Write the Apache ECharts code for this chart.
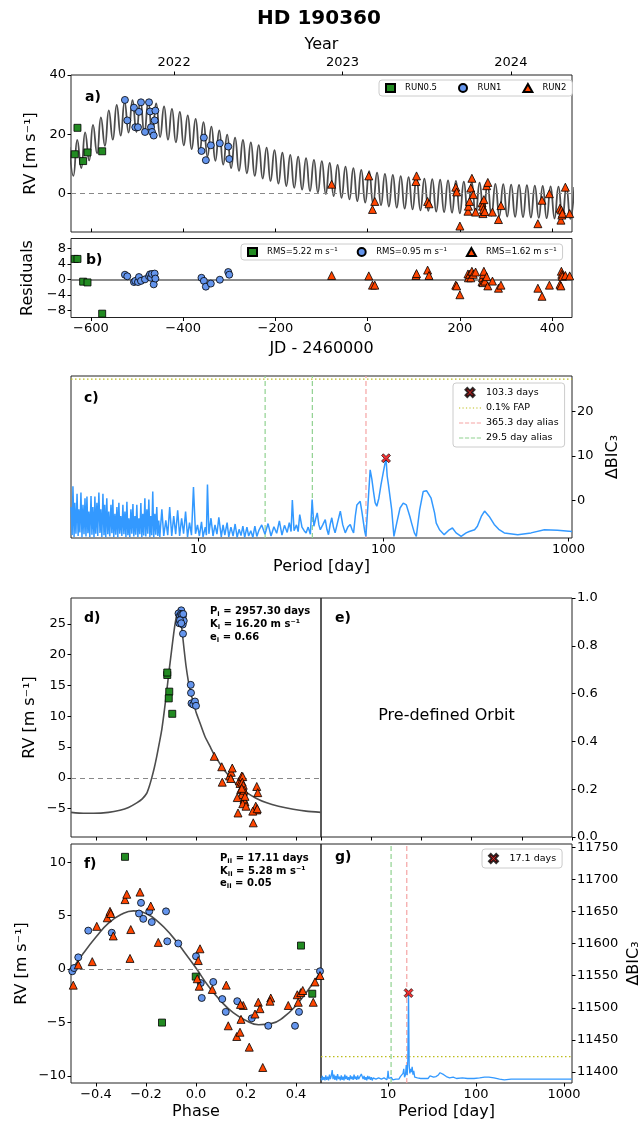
<!DOCTYPE html>
<html><head><meta charset="utf-8">
<script src="https://cdn.jsdelivr.net/npm/echarts@6/dist/echarts.min.js"></script>
<style>html,body{margin:0;padding:0;background:#fff}#c{width:638px;height:1127px}</style>
</head><body><div id="c"></div>
<script>
// ---------------- DATA ----------------
const jdTicks = [-600, -400, -200, 0, 200, 400];
const yearJD = [-419.5, -54.5, 310.5];
const yearLabels = ['2022', '2023', '2024'];

const run05JD = [-634.8, -629.0, -616.7, -607.2, -575.4];
const run05RV = [13.3, 22.2, 11.0, 13.9, 14.3];
const run05Res = [5.3, 5.3, -0.6, -0.8, -8.9];

const run1JD = [-526.1, -521.0, -506.5, -503.7, -497.8, -495.7, -491.3, -482.6, -473.9, -471.7, -469.6, -467.4, -463.7, -461.6, -460.1, -360.2, -355.0, -350.7, -339.9, -320.4, -302.2, -300.0];
const run1RV = [31.6, 24.7, 29.0, 22.4, 22.4, 27.6, 30.8, 20.8, 30.8, 27.7, 22.4, 20.8, 19.6, 24.7, 28.0, 14.4, 18.9, 11.3, 16.3, 17.0, 15.9, 11.7];
const run1Res = [1.2, 0.8, -0.7, -0.4, -0.7, 0.6, -0.4, 0.0, 0.8, 1.3, 0.4, 1.4, -1.3, 1.5, 0.2, 0.4, -0.4, -1.9, -1.1, -0.1, 1.9, 1.2];

const run2JD = [-78, 2.5, 10.5, 15.5, 104.7, 106, 130, 133, 191, 193, 200, 217.5, 218.5, 221, 223.6, 226, 229, 234, 248, 249, 250, 251, 252, 254, 258, 260.5, 270.6, 283.6, 289, 369, 378, 394, 417, 419, 420, 421, 422, 428.6, 438];
const run2RV = [3.2, 6.0, -5.3, -2.6, 4.1, 6.0, -2.6, -3.4, 2.2, 0.6, -10.9, -5.9, -4.2, -2.6, 1.9, 5.2, -0.3, -6.2, -3.1, -4.2, -6.7, -5.3, -2.0, -6.0, 2.7, 3.8, -6.2, -8.7, -4.0, -10.1, -2.2, 0.0, -4.9, -8.9, -5.5, -7.2, -6.6, 2.2, -6.7];
const run2Res = [1.0, 0.9, -1.5, -1.5, 1.0, 1.5, 2.4, 1.0, -1.5, -1.7, -4.0, 1.4, 0.4, 1.3, 0.4, 2.1, 1.3, 1.9, -0.6, 0.4, -0.85, 1.3, 2.1, -0.45, 0.7, -1.7, -0.45, -2.3, -1.5, -2.3, -4.4, -1.5, -1.3, -1.7, 2.1, 1.3, 0.8, 1.0, 0.9];

// model curve of panel a, read as turning points [JD, RV]
const modelA = [[-646.5,15.7],[-637.9,6.0],[-629.4,18.1],[-620.8,8.6],[-612.3,20.7],[-603.7,11.2],[-595.2,23.2],[-586.6,13.6],[-578.1,25.7],[-569.5,16.1],[-561.0,28.1],[-552.4,18.2],[-543.9,29.9],[-535.3,19.6],[-526.8,31.0],[-518.2,20.6],[-509.7,31.5],[-501.1,20.8],[-492.6,31.5],[-484.0,20.4],[-475.5,30.9],[-466.9,19.9],[-458.4,30.4],[-449.8,19.1],[-441.3,29.4],[-432.7,18.2],[-424.2,28.6],[-415.6,17.3],[-407.1,27.6],[-398.5,16.3],[-390.0,26.4],[-381.4,15.0],[-372.9,25.2],[-364.3,13.8],[-355.8,24.1],[-347.2,12.5],[-338.7,22.6],[-330.1,11.1],[-321.6,21.3],[-313.0,9.8],[-304.5,19.9],[-295.9,8.6],[-287.4,18.9],[-278.8,7.7],[-270.3,18.1],[-261.7,6.9],[-253.2,17.3],[-244.6,6.0],[-236.1,16.4],[-227.5,5.1],[-219.0,15.5],[-210.4,4.3],[-201.9,14.7],[-193.3,3.4],[-184.8,13.8],[-176.2,2.6],[-167.7,13.1],[-159.1,2.0],[-150.6,12.5],[-142.0,1.4],[-133.5,12.0],[-124.9,0.9],[-116.4,11.4],[-107.8,0.4],[-99.3,11.0],[-90.7,-0.1],[-82.2,10.4],[-73.6,-0.8],[-65.1,9.7],[-56.5,-1.4],[-48.0,9.1],[-39.4,-1.9],[-30.9,8.6],[-22.3,-2.5],[-13.8,8.0],[-5.2,-3.0],[3.3,7.6],[11.9,-3.4],[20.4,7.1],[29.0,-3.9],[37.5,6.7],[46.1,-4.3],[54.6,6.3],[63.2,-4.7],[71.7,5.9],[80.3,-5.0],[88.8,5.6],[97.4,-5.3],[105.9,5.4],[114.5,-5.6],[123.0,5.1],[131.6,-5.8],[140.1,4.9],[148.7,-6.0],[157.2,4.7],[165.8,-6.2],[174.3,4.5],[182.9,-6.4],[191.4,4.3],[200.0,-6.6],[208.5,4.1],[217.1,-6.8],[225.6,3.9],[234.2,-7.0],[242.7,3.7],[251.3,-7.2],[259.8,3.5],[268.4,-7.4],[276.9,3.3],[285.5,-7.6],[294.0,3.2],[302.6,-7.7],[311.1,3.05],[319.7,-7.8],[328.2,2.95],[336.8,-7.9],[345.3,2.85],[353.9,-8.0],[362.4,2.7],[371.0,-8.15],[379.5,2.6],[388.1,-8.25],[396.6,2.5],[405.2,-8.35],[413.7,2.4],[422.3,-8.45],[430.8,2.3],[439.4,-8.5],[447.9,2.25]];

// periodogram of panel c [period, dBIC]
const periodogramC = [[2.05,-1.5],[2.08,-7.8],[2.10,3.2],[2.13,-8.2],[2.15,-0.5],[2.18,-7.5],[2.21,1.5],[2.24,-8.0],[2.26,-2.0],[2.29,-7.2],[2.32,1.8],[2.35,-8.3],[2.38,-1.0],[2.41,-7.6],[2.44,0.5],[2.47,-8.1],[2.50,0.9],[2.53,-7.4],[2.56,-2.5],[2.59,-8.2],[2.63,1.0],[2.66,-7.7],[2.69,-1.5],[2.73,-8.3],[2.76,0.9],[2.79,-7.5],[2.83,-0.5],[2.86,-8.0],[2.90,1.8],[2.94,-7.3],[2.97,-2.0],[3.01,-8.2],[3.05,1.5],[3.09,-7.8],[3.12,-1.0],[3.16,-8.3],[3.20,0.5],[3.24,-7.6],[3.28,-2.5],[3.32,-8.1],[3.37,-1.0],[3.41,-7.4],[3.45,0.2],[3.49,-8.2],[3.54,-3.0],[3.58,-7.7],[3.63,-1.5],[3.67,-8.3],[3.72,-0.5],[3.76,-7.5],[3.81,-3.5],[3.86,-8.0],[3.91,-1.0],[3.96,-7.6],[4.01,-2.5],[4.06,-8.2],[4.11,-0.3],[4.16,-7.8],[4.21,-4.0],[4.26,-8.3],[4.32,-2.0],[4.37,-7.5],[4.43,-0.8],[4.48,-8.1],[4.54,-3.5],[4.59,-7.7],[4.65,-1.0],[4.71,-8.2],[4.77,-4.0],[4.83,-7.6],[4.89,-0.6],[4.95,-8.3],[5.01,-3.0],[5.07,-7.9],[5.14,0.5],[5.20,-8.1],[5.27,-2.0],[5.33,-7.5],[5.40,0.2],[5.47,-8.2],[5.53,-3.5],[5.60,-7.8],[5.67,2.0],[5.74,-8.3],[5.82,-3.0],[5.89,-7.7],[5.96,-1.5],[6.04,-8.0],[6.11,-4.5],[6.19,-8.2],[6.35,-2.0],[6.50,-8.0],[6.67,-4.5],[6.83,-7.8],[7.00,-1.5],[7.18,-8.0],[7.36,-3.5],[7.54,-7.6],[7.73,-2.2],[7.92,-8.0],[8.12,-4.0],[8.32,-7.5],[8.53,-2.5],[8.74,-8.2],[8.96,-5.0],[9.18,-7.8],[9.41,3.0],[9.65,-7.5],[9.89,-5.5],[10.13,-8.0],[10.4,-4.8],[10.6,-8.2],[10.9,-6.0],[11.05,-7.8],[11.2,3.6],[11.4,-7.5],[11.7,-4.0],[12.0,-8.0],[12.3,-5.5],[12.6,-7.6],[12.9,-3.8],[13.3,-8.2],[13.6,-5.5],[13.9,-7.8],[14.3,-5.0],[14.6,-8.2],[15.0,-6.0],[15.4,-8.0],[15.8,-5.3],[16.2,-8.3],[16.6,-6.5],[17.0,-7.9],[17.4,-5.8],[17.8,-8.3],[18.3,-6.0],[18.7,-8.0],[19.2,-6.8],[19.7,-8.3],[20.2,-5.8],[20.7,-8.1],[21.2,-6.8],[22.0,-5.5],[22.9,-7.6],[23.8,-5.2],[24.7,-8.0],[25.6,-5.9],[26.5,-7.4],[27.4,-4.6],[28.3,-7.8],[29.2,-5.6],[30.2,-7.2],[31.0,-5.0],[31.7,-7.0],[32.2,0.1],[32.9,-6.8],[33.9,-5.5],[34.6,-7.0],[35.3,-3.2],[36.3,-6.0],[37.3,-6.8],[38.2,-7.3],[39.2,-6.0],[40.3,-7.6],[41.2,0.2],[42.1,-5.8],[43.0,-4.2],[43.9,-2.8],[44.8,-5.5],[45.6,-6.6],[47.0,-5.5],[48.5,-4.3],[49.5,-6.5],[50.5,-7.7],[51.5,-5.5],[52.6,-3.9],[53.7,-6.0],[54.8,-7.3],[56.5,-5.0],[58.5,-2.4],[60.3,-5.5],[62.2,-7.3],[64.2,-6.0],[66.2,-5.4],[67.6,-6.5],[69.0,-7.3],[70.5,-3.5],[71.9,-1.0],[73.4,-0.6],[74.9,-0.2],[76.5,-2.5],[78.1,-5.1],[79.3,-7.0],[80.4,-8.1],[82.5,-1.0],[84.8,6.9],[86.6,4.8],[88.4,2.0],[90.2,-0.5],[92.1,-1.3],[94.5,0.5],[97.0,3.5],[100.0,6.5],[103.3,9.5],[104.8,5.5],[106.4,3.6],[108.6,3.4],[110.8,-2.0],[114,-8.1],[118,-5.1],[123,-1.7],[128,-0.6],[133,-1.0],[139,-3.6],[142,-5.1],[147,-7.3],[150.6,-8.1],[157,-2.1],[164,2.0],[171,2.2],[174,1.7],[181,0.5],[189,-2.8],[193,-5.1],[201,-6.6],[213,-7.7],[227,-6.6],[236,-6.2],[247,-7.3],[263,-8.1],[280,-7.3],[291,-7.0],[311,-6.6],[322,-5.8],[338,-3.6],[352,-2.4],[358,-2.1],[373,-3.6],[397,-5.4],[420,-6.5],[450,-7.3],[532,-7.7],[628,-7.3],[741,-6.6],[872,-6.7],[1045,-7.0]];
const peakC = [103.3, 9.5];
const fapC = 27.3;
const alias365C = [80.5];
const alias29C = [22.95, 41.3];

// panel d (phase-folded planet I)
const phaseD05 = [-0.115, -0.115, -0.107, -0.109, -0.095];
const rvD05 = [16.7, 17.1, 14.0, 12.9, 10.4];
const phaseD1 = [-0.059, -0.070, -0.065, -0.059, -0.053, -0.067, -0.053, -0.049, -0.052, -0.060, -0.056, -0.064, -0.051, -0.059, -0.021, -0.020, -0.018, -0.011, -0.004, 0.000];
const rvD1 = [27.2, 26.7, 26.3, 25.9, 26.2, 25.1, 24.9, 25.5, 23.4, 26.6, 26.5, 25.6, 26.6, 25.1, 15.1, 13.8, 12.1, 11.9, 12.4, 11.7];
const phaseD2 = [0.073, 0.103, 0.105, 0.134, 0.141, 0.145, 0.139, 0.173, 0.176, 0.183, 0.187, 0.179, 0.189, 0.183, 0.192, 0.165, 0.196, 0.187, 0.200, 0.168, 0.243, 0.247, 0.239, 0.243, 0.227, 0.245, 0.229, 0.187, 0.185, 0.189, 0.192, 0.183, 0.196];
const rvD2 = [3.5, 1.8, -0.7, 0.3, 0.9, 1.6, -0.1, -0.5, -0.9, 0.3, -1.5, -1.9, -2.3, -2.7, -3.5, -3.2, -3.9, -4.2, -4.6, -5.7, -1.4, -2.4, -4.6, -5.2, -5.4, -5.0, -7.3, 0.2, -0.7, -1.2, -2.0, -1.7, -3.0];
const modelDPhase = [-0.5, -0.45, -0.41, -0.35, -0.304, -0.27, -0.237, -0.215, -0.197, -0.187, -0.177, -0.167, -0.157, -0.147, -0.137, -0.127, -0.117, -0.107, -0.097, -0.089, -0.082, -0.076, -0.071, -0.066, -0.061, -0.055, -0.048, -0.040, -0.031, -0.021, -0.011, 0.000, 0.016, 0.035, 0.056, 0.075, 0.096, 0.120, 0.149, 0.175, 0.203, 0.240, 0.283, 0.330, 0.389, 0.440, 0.5];
const modelDRV = [-5.6, -5.75, -5.75, -5.6, -5.25, -4.8, -4.06, -3.4, -2.5, -1.4, 0.0, 1.6, 3.5, 5.6, 7.8, 10.8, 14.1, 17.6, 20.9, 23.5, 25.4, 26.6, 27.0, 26.7, 25.6, 23.6, 21.0, 18.2, 15.8, 13.8, 12.3, 10.7, 8.9, 6.8, 5.1, 3.6, 2.3, 0.9, -0.5, -1.5, -2.4, -3.3, -4.05, -4.6, -5.1, -5.4, -5.6];

// panel f (phase-folded planet II)
const phaseF05 = [-0.284, -0.136, -0.001, 0.420, 0.465];
const rvF05 = [10.5, -5.0, -0.7, 2.2, -2.3];
const phaseF1 = [-0.495, -0.488, -0.471, -0.431, -0.337, -0.228, -0.220, -0.211, -0.187, -0.177, -0.120, -0.115, -0.071, 0.000, 0.019, 0.023, 0.069, 0.105, 0.119, 0.165, 0.223, 0.289, 0.396, 0.412, 0.496];
const rvF1 = [-0.2, 0.1, 1.1, 3.6, 3.4, 5.2, 6.2, 4.7, 5.4, 4.4, 5.4, 2.6, 2.4, 1.2, -1.3, -2.7, -1.2, -2.8, -4.0, -3.0, -4.6, -5.3, -5.3, -4.0, -0.2];
const phaseF2 = [-0.491, -0.471, -0.415, -0.397, -0.355, -0.344, -0.341, -0.331, -0.284, -0.277, -0.264, -0.261, -0.224, -0.181, -0.151, 0.016, 0.009, 0.005, 0.013, 0.065, 0.121, 0.129, 0.163, 0.176, 0.180, 0.189, 0.213, 0.236, 0.249, 0.256, 0.267, 0.299, 0.296, 0.369, 0.405, 0.409, 0.419, 0.427, 0.469, 0.476, 0.496, 0.178];
const rvF2 = [-1.5, 0.4, 0.7, 4.0, 4.8, 5.4, 5.2, 3.1, 6.5, 7.0, 1.0, 3.7, 7.2, 5.9, 2.5, 1.9, 0.8, -0.9, -1.6, -1.9, -1.5, -5.3, -6.3, -5.9, -4.7, -3.4, -7.3, -4.2, -3.1, -3.7, -9.2, -2.7, -3.0, -3.4, -2.4, -3.1, -2.2, -2.0, -3.1, -1.2, -0.6, -3.3];
const modelFPhase = [-0.5, -0.45, -0.4, -0.35, -0.3, -0.25, -0.2, -0.15, -0.1, -0.05, 0.0, 0.05, 0.1, 0.15, 0.2, 0.25, 0.3, 0.35, 0.4, 0.45, 0.5];
const modelFRV = [-0.2, 1.5, 3.0, 4.3, 5.1, 5.45, 5.2, 4.4, 3.2, 1.7, 0.1, -1.6, -3.0, -4.1, -4.8, -5.2, -5.1, -4.5, -3.4, -1.9, -0.2];

// periodogram of panel g [period, BIC]
const periodogramG = [[1.73,11391],[1.76,11387],[1.79,11394],[1.83,11388],[1.87,11392],[1.92,11387],[1.96,11395],[2.01,11388],[2.06,11393],[2.11,11387],[2.16,11396],[2.21,11389],[2.26,11394],[2.32,11403],[2.37,11389],[2.43,11396],[2.49,11388],[2.55,11394],[2.61,11387],[2.67,11397],[2.74,11389],[2.80,11393],[2.87,11387],[2.94,11395],[3.01,11388],[3.08,11393],[3.16,11387],[3.23,11396],[3.31,11389],[3.39,11394],[3.47,11388],[3.56,11392],[3.64,11387],[3.73,11395],[3.82,11389],[3.91,11393],[4.01,11388],[4.11,11396],[4.21,11389],[4.31,11393],[4.41,11388],[4.52,11395],[4.63,11389],[4.74,11392],[4.85,11388],[4.97,11397],[5.09,11400],[5.21,11389],[5.34,11394],[5.47,11388],[5.60,11392],[5.73,11387],[5.87,11394],[6.01,11389],[6.16,11393],[6.30,11388],[6.46,11392],[6.61,11387],[6.77,11391],[6.94,11388],[7.10,11393],[7.28,11389],[7.45,11392],[7.63,11387],[7.82,11391],[8.00,11388],[8.20,11393],[8.40,11389],[8.60,11392],[8.81,11388],[9.02,11391],[9.24,11389],[9.46,11393],[9.69,11388],[9.92,11395],[10.0,11402],[10.2,11390],[10.5,11389],[10.9,11392],[11.3,11388],[11.8,11391],[12.3,11389],[12.8,11392],[13.3,11389],[13.8,11393],[14.3,11390],[14.8,11398],[15.1,11405],[15.4,11392],[15.8,11396],[16.1,11411],[16.5,11395],[16.8,11420],[17.1,11523],[17.4,11410],[17.7,11398],[18.0,11405],[18.4,11400],[18.8,11408],[19.2,11396],[19.6,11402],[20.1,11392],[20.8,11395],[21.6,11391],[22.5,11394],[23.5,11390],[24.6,11393],[25.8,11390],[27.0,11392],[28.5,11390],[30.0,11394],[31.5,11396],[33.0,11392],[35.0,11393],[37.0,11395],[39.0,11399],[41.0,11400],[43.0,11396],[46.0,11393],[50.0,11391],[55.0,11392],[60.0,11390],[70.0,11391],[80.0,11390],[95.0,11390],[110,11391],[125,11392],[140,11392],[160,11391],[185,11389],[210,11388],[250,11389],[320,11389],[420,11389],[550,11389],[700,11389],[900,11389],[1233,11389]];
const peakG = [17.1, 11523];
const fapG = 11424;
const alias365G = [16.33];
const alias29G = [10.83];

// ---------------- CHART ----------------
const FONT = "'DejaVu Sans', sans-serif";
const chart = echarts.init(document.getElementById('c'), null, {renderer: 'canvas', width: 638, height: 1127});
const mfmt = v => (v < 0 ? '\u2212' : '') + Math.abs(v);
const mfmt1 = v => (v < -1e-9 ? '\u2212' : '') + Math.abs(v).toFixed(1);
const yearLabel = v => { let b = 0; yearJD.forEach((y, i) => { if (Math.abs(y - v) < Math.abs(yearJD[b] - v)) b = i; }); return yearLabels[b]; };
const zip = (a, b) => a.map((x, i) => [x, b[i]]);
const XPATH = 'path://M0,2 L2,0 L5,3 L8,0 L10,2 L7,5 L10,8 L8,10 L5,7 L2,10 L0,8 L3,5 Z';
const DASH_ICON = 'path://M0,0h5v1.3h-5z M7,0h5v1.3h-5z M14,0h5v1.3h-5z M21,0h5v1.3h-5z';
const DOT_ICON = 'path://M0,0h1.4v1.4h-1.4z M4,0h1.4v1.4h-1.4z M8,0h1.4v1.4h-1.4z M12,0h1.4v1.4h-1.4z M16,0h1.4v1.4h-1.4z M20,0h1.4v1.4h-1.4z M24,0h1.4v1.4h-1.4z';

const STY = {
  r05: {symbol: 'rect', symbolSize: 7, color: '#228b22'},
  r1: {symbol: 'circle', symbolSize: 7, color: '#6495ed'},
  r2: {symbol: 'triangle', symbolSize: 8, color: '#ff4500'}
};
function sc(name, xi, yi, data, k, extra) {
  return Object.assign({
    type: 'scatter', name, xAxisIndex: xi, yAxisIndex: yi, data,
    symbol: STY[k].symbol, symbolSize: STY[k].symbolSize, clip: true, z: 5,
    itemStyle: {color: STY[k].color, borderColor: '#000', borderWidth: 0.8, opacity: 1}
  }, extra || {});
}
const zeroDash = {silent: true, symbol: 'none', label: {show: false}, animation: false,
  lineStyle: {type: [5, 4], color: '#888', width: 1.2}, data: [{yAxis: 0}]};

const tick = (cv, inside) => ({show: true, inside: !!inside, customValues: cv, length: 3.5, lineStyle: {color: '#000', width: 1}});
const lab = (cv, fmt, extra) => Object.assign({show: true, customValues: cv, formatter: fmt, color: '#000', fontFamily: FONT, fontSize: 13, margin: 5}, extra || {});
const nameStyle = {color: '#000', fontFamily: FONT, fontSize: 16};
const base = {axisLine: {show: false, onZero: false}, splitLine: {show: false}};

const grids = [
  {left: 71, top: 75, width: 501, height: 157},
  {left: 71, top: 238.5, width: 501, height: 79},
  {left: 71, top: 376, width: 501, height: 162},
  {left: 71, top: 598, width: 250, height: 239},
  {left: 321, top: 598, width: 251, height: 239},
  {left: 71, top: 844, width: 250, height: 239},
  {left: 321, top: 844, width: 251, height: 239}
].map(g => Object.assign({show: true, borderColor: '#222', borderWidth: 1, backgroundColor: 'transparent', containLabel: false, outerBoundsMode: 'none'}, g));

const xAxis = [
  Object.assign({type: 'value', gridIndex: 0, min: -643, max: 443, axisTick: tick(jdTicks, true), axisLabel: {show: false}}, base),
  Object.assign({type: 'value', gridIndex: 0, position: 'top', min: -643, max: 443, axisTick: tick(yearJD), axisLabel: lab(yearJD, yearLabel, {margin: 6}),
    name: 'Year', nameLocation: 'middle', nameGap: 22, nameTextStyle: nameStyle}, base),
  Object.assign({type: 'value', gridIndex: 1, min: -643, max: 443, axisTick: tick(jdTicks), axisLabel: lab(jdTicks, mfmt),
    name: 'JD - 2460000', nameLocation: 'middle', nameGap: 23, nameTextStyle: nameStyle}, base),
  Object.assign({type: 'log', gridIndex: 2, min: 2.05, max: 1045, axisTick: tick([10, 100, 1000]), axisLabel: lab([10, 100, 1000], v => String(Math.round(v))),
    name: 'Period [day]', nameLocation: 'middle', nameGap: 21, nameTextStyle: nameStyle}, base),
  Object.assign({type: 'value', gridIndex: 3, min: -0.5, max: 0.5, axisTick: tick([-0.4, -0.2, 0, 0.2, 0.4]), axisLabel: {show: false}}, base),
  Object.assign({type: 'value', gridIndex: 4, min: 0, max: 1, axisTick: tick([0, 0.2, 0.4, 0.6, 0.8, 1.0]), axisLabel: {show: false}}, base),
  Object.assign({type: 'value', gridIndex: 5, min: -0.5, max: 0.5, axisTick: tick([-0.4, -0.2, 0, 0.2, 0.4]), axisLabel: lab([-0.4, -0.2, 0, 0.2, 0.4], mfmt1),
    name: 'Phase', nameLocation: 'middle', nameGap: 21, nameTextStyle: nameStyle}, base),
  Object.assign({type: 'log', gridIndex: 6, min: 1.73, max: 1233, axisTick: tick([10, 100, 1000]), axisLabel: lab([10, 100, 1000], v => String(Math.round(v))),
    name: 'Period [day]', nameLocation: 'middle', nameGap: 21, nameTextStyle: nameStyle}, base)
];
const yName = (n, gap) => ({name: n, nameLocation: 'middle', nameGap: gap, nameRotate: 90, nameTextStyle: nameStyle});
const yAxis = [
  Object.assign({type: 'value', gridIndex: 0, min: -12.9, max: 40, axisTick: tick([0, 20, 40]), axisLabel: lab([0, 20, 40], mfmt)}, base, yName('RV [m s\u207B\u00B9]', 30)),
  Object.assign({type: 'value', gridIndex: 1, min: -9.9, max: 10.6, axisTick: tick([-8, -4, 0, 4, 8]), axisLabel: lab([-8, -4, 0, 4, 8], mfmt)}, base, yName('Residuals', 32)),
  Object.assign({type: 'value', gridIndex: 2, position: 'right', min: -8.45, max: 28, axisTick: tick([0, 10, 20]), axisLabel: lab([0, 10, 20], mfmt)}, base, yName('\u0394BIC\u2083', 30)),
  Object.assign({type: 'value', gridIndex: 3, min: -9.6, max: 29.2, axisTick: tick([-5, 0, 5, 10, 15, 20, 25]), axisLabel: lab([-5, 0, 5, 10, 15, 20, 25], mfmt)}, base, yName('RV [m s\u207B\u00B9]', 33)),
  Object.assign({type: 'value', gridIndex: 4, position: 'right', min: 0, max: 1, axisTick: tick([0, 0.2, 0.4, 0.6, 0.8, 1.0]), axisLabel: lab([0, 0.2, 0.4, 0.6, 0.8, 1.0], v => v.toFixed(1))}, base),
  Object.assign({type: 'value', gridIndex: 5, min: -10.65, max: 11.7, axisTick: tick([-10, -5, 0, 5, 10]), axisLabel: lab([-10, -5, 0, 5, 10], mfmt)}, base, yName('RV [m s\u207B\u00B9]', 41)),
  Object.assign({type: 'value', gridIndex: 6, position: 'right', min: 11383, max: 11755, axisTick: tick([11400, 11450, 11500, 11550, 11600, 11650, 11700, 11750]), axisLabel: lab([11400, 11450, 11500, 11550, 11600, 11650, 11700, 11750], v => String(v))}, base, yName('\u0394BIC\u2083', 54))
];

const vline = (name, xi, yi, x, y0, y1, color, dash) => ({type: 'line', name, xAxisIndex: xi, yAxisIndex: yi, data: [[x, y0], [x, y1]],
  symbol: 'none', showSymbol: false, lineStyle: {color, width: 1.2, type: dash}, itemStyle: {color}, z: 2, silent: true});
const hline = (name, xi, yi, x0, x1, y, color, dash) => ({type: 'line', name, xAxisIndex: xi, yAxisIndex: yi, data: [[x0, y], [x1, y]],
  symbol: 'none', showSymbol: false, lineStyle: {color, width: 1.2, type: dash}, itemStyle: {color}, z: 2, silent: true});

const RMS05 = 'RMS=5.22 m s\u207B\u00B9', RMS1 = 'RMS=0.95 m s\u207B\u00B9', RMS2 = 'RMS=1.62 m s\u207B\u00B9';
const GREEN_AL = '#8fd18f', RED_AL = '#f5a3a3', FAPC = '#bdbd1c', BLUE = '#3399ff';

const series = [
  // a
  {type: 'line', name: 'model a', xAxisIndex: 0, yAxisIndex: 0, data: modelA, smooth: 0.5, symbol: 'none', showSymbol: false,
    lineStyle: {color: '#4d4d4d', width: 1.8}, z: 3, markLine: zeroDash},
  sc('RUN0.5', 0, 0, zip(run05JD, run05RV), 'r05'),
  sc('RUN1', 0, 0, zip(run1JD, run1RV), 'r1'),
  sc('RUN2', 0, 0, zip(run2JD, run2RV), 'r2'),
  // b
  sc(RMS05, 2, 1, zip(run05JD, run05Res), 'r05', {markLine: {silent: true, symbol: 'none', label: {show: false}, lineStyle: {type: 'solid', color: '#666', width: 1.6}, data: [{yAxis: 0}]}}),
  sc(RMS1, 2, 1, zip(run1JD, run1Res), 'r1'),
  sc(RMS2, 2, 1, zip(run2JD, run2Res), 'r2'),
  // c
  hline('0.1% FAP', 3, 2, 2.05, 1045, fapC, FAPC, [1.5, 2.5]),
  vline('365.3 day alias', 3, 2, alias365C[0], -8.45, 28, RED_AL, [5, 3]),
  vline('29.5 day alias', 3, 2, alias29C[0], -8.45, 28, GREEN_AL, [5, 3]),
  vline('29.5 day alias', 3, 2, alias29C[1], -8.45, 28, GREEN_AL, [5, 3]),
  {type: 'line', name: 'periodogram c', xAxisIndex: 3, yAxisIndex: 2, data: periodogramC, symbol: 'none', showSymbol: false,
    lineStyle: {color: BLUE, width: 1.5}, z: 3},
  {type: 'scatter', name: '103.3 days', xAxisIndex: 3, yAxisIndex: 2, data: [peakC], symbol: XPATH, symbolSize: 9,
    itemStyle: {color: '#ee0000', borderColor: '#000', borderWidth: 0.8}, z: 6},
  // d
  {type: 'line', name: 'model d', xAxisIndex: 4, yAxisIndex: 3, data: zip(modelDPhase, modelDRV), smooth: 0.2, symbol: 'none', showSymbol: false,
    lineStyle: {color: '#4d4d4d', width: 1.6}, z: 3, markLine: zeroDash},
  sc('d RUN0.5', 4, 3, zip(phaseD05, rvD05), 'r05'),
  sc('d RUN1', 4, 3, zip(phaseD1, rvD1), 'r1'),
  sc('d RUN2', 4, 3, zip(phaseD2, rvD2), 'r2'),
  // f
  {type: 'line', name: 'model f', xAxisIndex: 6, yAxisIndex: 5, data: zip(modelFPhase, modelFRV), smooth: true, symbol: 'none', showSymbol: false,
    lineStyle: {color: '#4d4d4d', width: 1.6}, z: 3, markLine: zeroDash},
  sc('f RUN0.5', 6, 5, zip(phaseF05, rvF05), 'r05'),
  sc('f RUN1', 6, 5, zip(phaseF1, rvF1), 'r1'),
  sc('f RUN2', 6, 5, zip(phaseF2, rvF2), 'r2'),
  // g
  hline('g FAP', 7, 6, 1.73, 1233, fapG, FAPC, [1.5, 2.5]),
  vline('g alias 365', 7, 6, alias365G[0], 11383, 11755, RED_AL, [5, 3]),
  vline('g alias 29', 7, 6, alias29G[0], 11383, 11755, GREEN_AL, [5, 3]),
  {type: 'line', name: 'periodogram g', xAxisIndex: 7, yAxisIndex: 6, data: periodogramG, symbol: 'none', showSymbol: false,
    lineStyle: {color: BLUE, width: 1.3}, z: 3},
  {type: 'scatter', name: '17.1 days', xAxisIndex: 7, yAxisIndex: 6, data: [peakG], symbol: XPATH, symbolSize: 9,
    itemStyle: {color: '#ee0000', borderColor: '#000', borderWidth: 0.8}, z: 6}
];

const legBase = {selectedMode: false, backgroundColor: '#fff', borderColor: '#ccc', borderWidth: 1, borderRadius: 3,
  symbolKeepAspect: true, textStyle: {color: '#000', fontFamily: FONT, fontSize: 8.5}};
const smallTxt = {color: '#000', fontFamily: FONT, fontSize: 8.5, padding: [0, 0, 0, 5]};
const legend = [
  Object.assign({}, legBase, {data: ['RUN0.5', 'RUN1', 'RUN2'], left: 379, top: 80, orient: 'horizontal', itemWidth: 9, itemHeight: 8, itemGap: 21, padding: [3, 6, 3, 6], textStyle: smallTxt}),
  Object.assign({}, legBase, {data: [RMS05, RMS1, RMS2], left: 241, top: 244, orient: 'horizontal', itemWidth: 9, itemHeight: 8, itemGap: 19, padding: [3, 6, 3, 6], textStyle: smallTxt}),
  Object.assign({}, legBase, {data: ['103.3 days', {name: '0.1% FAP', icon: DOT_ICON}, {name: '365.3 day alias', icon: DASH_ICON}, {name: '29.5 day alias', icon: DASH_ICON}],
    left: 453, top: 383, orient: 'vertical', itemWidth: 22, itemHeight: 9, itemGap: 5, padding: [4, 6, 4, 6], textStyle: {color: '#000', fontFamily: FONT, fontSize: 9.5}}),
  Object.assign({}, legBase, {data: ['17.1 days'], left: 482, top: 849, orient: 'vertical', itemWidth: 22, itemHeight: 9, padding: [4, 6, 4, 6],
    textStyle: {color: '#000', fontFamily: FONT, fontSize: 9.5}})
];

const T = (x, y, text, size, bold, align) => ({type: 'text', x, y, z: 100, silent: true,
  style: {text, fontFamily: FONT, fontSize: size, fontWeight: bold ? 'bold' : 'normal', fill: '#000',
    align: align || 'left', verticalAlign: 'middle', textAlign: align || 'left', textVerticalAlign: 'middle'}});
const richStyle = {b: {fontFamily: FONT, fontSize: 10, fontWeight: 'bold', fill: '#000', lineHeight: 13},
  s: {fontFamily: FONT, fontSize: 6.5, fontWeight: 'bold', fill: '#000', verticalAlign: 'bottom', lineHeight: 13}};
const R = (x, y, text) => ({type: 'text', x, y, z: 100, silent: true,
  style: {text, rich: richStyle, fill: '#000', align: 'left', verticalAlign: 'middle', textAlign: 'left', textVerticalAlign: 'middle'}});

const graphic = [
  T(85, 97, 'a)', 14, true), T(86, 260, 'b)', 14, true), T(84, 398, 'c)', 14, true),
  T(84, 618, 'd)', 14, true), T(335, 618, 'e)', 14, true), T(84, 864, 'f)', 14, true), T(335, 857, 'g)', 14, true),
  T(446.5, 716, 'Pre-defined Orbit', 16, false, 'center'),
  R(210, 611, '{b|P}{s|I}{b| = 2957.30 days}'),
  R(210, 624, '{b|K}{s|I}{b| = 16.20 m s\u207B\u00B9}'),
  R(210, 637, '{b|e}{s|I}{b| = 0.66}'),
  R(220, 858, '{b|P}{s|II}{b| = 17.11 days}'),
  R(220, 871, '{b|K}{s|II}{b| = 5.28 m s\u207B\u00B9}'),
  R(220, 883.5, '{b|e}{s|II}{b| = 0.05}')
];

chart.setOption({
  animation: false,
  backgroundColor: '#fff',
  title: {text: 'HD 190360', left: 'center', top: 4, textStyle: {fontFamily: FONT, fontSize: 20, fontWeight: 'bold', color: '#000'}},
  grid: grids, xAxis, yAxis, series, legend, graphic
});
</script></body></html>
